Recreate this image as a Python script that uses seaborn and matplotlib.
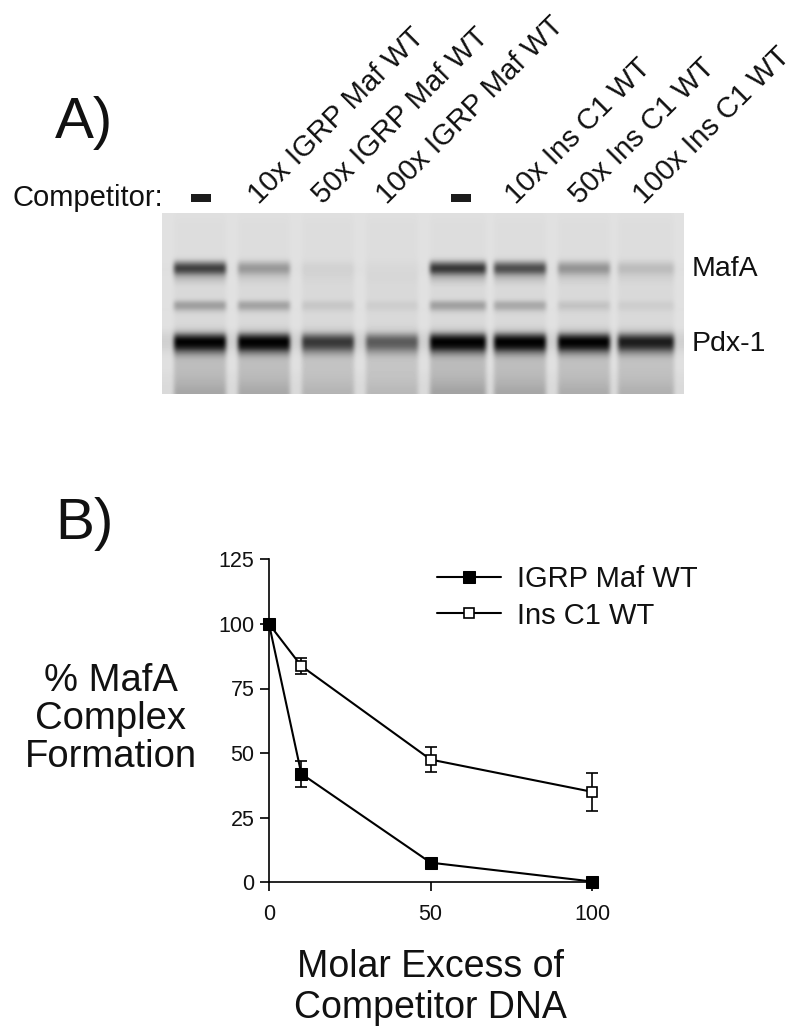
import numpy as np
import pandas as pd
import seaborn as sns
import matplotlib.pyplot as plt
from matplotlib.patches import Rectangle

# competition curves
excess = [0, 10, 50, 100]
igrp_mean = [100, 42, 7.6, 0.3]
igrp_err = [0, 5, 0.8, 1.0]
ins_mean = [100, 83.7, 47.5, 35]
ins_err = [0, 3.1, 5, 7.4]
y_ticks = [0, 25, 50, 75, 100, 125]
x_ticks = [0, 50, 100]

# gel lanes, left to right
lane_labels = ["10x IGRP Maf WT", "50x IGRP Maf WT", "100x IGRP Maf WT",
               "10x Ins C1 WT", "50x Ins C1 WT", "100x Ins C1 WT"]
lane_left = [175, 239, 303, 368, 431, 495, 557, 620]
lane_right = [227, 290, 355, 420, 485, 547, 610, 675]
mafa_band = [165, 70, 9, 2, 175, 150, 75, 32]
middle_band = [70, 65, 22, 14, 68, 58, 26, 14]
pdx_band = [210, 218, 150, 115, 220, 218, 212, 178]
smear = [42, 40, 28, 24, 46, 42, 36, 32]

# vertical shapes of the gel, one value per 4 px row from the top
lane_bg = [223, 222, 221, 221, 221, 221, 221, 221, 221, 221, 221, 220, 219, 218, 217, 215, 215, 216, 217, 217,
           217, 217, 217, 217, 217, 217, 217, 216, 214, 212, 209, 206, 204, 204, 205, 207, 208, 208,
           208, 208, 208, 208, 208, 208, 208]
gap_bg = [225, 225, 225, 225, 225, 225, 225, 225, 225, 225, 225, 225, 224, 223, 223, 224, 225, 225, 225, 225,
          225, 225, 225, 224, 224, 225, 225, 225, 224, 218, 212, 208, 208, 212, 218, 222, 224, 224,
          224, 222, 220, 220, 218, 218, 218]
mafa_shape = [0] * 11 + [0.06, 0.55, 1, 0.85, 0.35, 0.14, 0.05] + [0] * 27
middle_shape = [0] * 21 + [0.06, 0.85, 0.85, 0.2] + [0] * 20
pdx_shape = [0] * 28 + [0.02, 0.14, 0.6, 1, 1, 0.8, 0.35, 0.1] + [0] * 9
smear_shape = [0] * 34 + [0.5, 0.55, 0.5, 0.45, 0.45, 0.5, 0.55, 0.65, 0.75, 0.9, 1]

sns.set_theme(style="ticks")
plt.rcParams["font.family"] = ["Liberation Sans", "DejaVu Sans"]

W, H = 800, 1029
fig = plt.figure(figsize=(W / 100, H / 100), dpi=100, facecolor="white")


def put(x, y, s, **kw):
    fig.text(x / W, 1 - y / H, s, color="#111111", **kw)


# gel image
n_rows = len(lane_bg)
cols = np.arange(162, 690, 4)
gel = np.zeros((n_rows, len(cols)))
for j, x in enumerate(cols):
    gel[:, j] = gap_bg
    for k in range(len(lane_left)):
        if lane_left[k] <= x + 2 < lane_right[k]:
            gel[:, j] = (np.array(lane_bg)
                         - mafa_band[k] * np.array(mafa_shape)
                         - middle_band[k] * np.array(middle_shape)
                         - pdx_band[k] * np.array(pdx_shape)
                         - smear[k] * np.array(smear_shape))
ax_gel = fig.add_axes([162 / W, 1 - 394 / H, 522 / W, 181 / H])
ax_gel.imshow(np.clip(gel, 0, 255), cmap="gray", vmin=0, vmax=255, aspect="auto",
              interpolation="bicubic", extent=(162, 690, 394, 213))
ax_gel.set_xlim(162, 684)
ax_gel.set_ylim(394, 213)
ax_gel.axis("off")

put(55, 138, "A)", fontsize=42)
put(55, 539, "B)", fontsize=42)
put(12, 206, "Competitor:", fontsize=21)
for x0 in [191, 451]:
    fig.add_artist(Rectangle((x0 / W, 1 - 202 / H), 20 / W, 8 / H, color="#1c1c1c", lw=0,
                             transform=fig.transFigure))
for x0, s in zip([259, 323, 387, 516, 580, 644], lane_labels):
    put(x0, 205, s, fontsize=21, rotation=45, rotation_mode="anchor", ha="left", va="baseline")
put(692, 276, "MafA", fontsize=20.5)
put(692, 351, "Pdx-1", fontsize=20.5)

# panel B
ax = fig.add_axes([269 / W, 1 - 882.3 / H, 323.3 / W, 323 / H])
igrp = pd.DataFrame({"excess": excess, "pct": igrp_mean})
ins = pd.DataFrame({"excess": excess, "pct": ins_mean})
sns.lineplot(data=igrp, x="excess", y="pct", ax=ax, color="black", lw=1.5, marker="s", ms=8.5,
             markerfacecolor="black", markeredgecolor="black", label="IGRP Maf WT", zorder=4, clip_on=False)
sns.lineplot(data=ins, x="excess", y="pct", ax=ax, color="black", lw=1.5, marker="s", ms=7.5,
             markerfacecolor="white", markeredgecolor="black", markeredgewidth=1.2, label="Ins C1 WT",
             zorder=3, clip_on=False)
ax.errorbar(excess, igrp_mean, yerr=igrp_err, fmt="none", ecolor="black", elinewidth=1.2, capsize=4,
            capthick=1.2, zorder=2, clip_on=False)
ax.errorbar(excess, ins_mean, yerr=ins_err, fmt="none", ecolor="black", elinewidth=1.2, capsize=4,
            capthick=1.2, zorder=2, clip_on=False)
ax.set_xlim(0, 100)
ax.set_ylim(0, 125)
ax.set_xticks(x_ticks)
ax.set_yticks(y_ticks)
ax.tick_params(axis="y", length=6.5, width=1.2, pad=4, labelsize=15.5, color="black", labelcolor="#111111")
ax.tick_params(axis="x", length=6.5, width=1.2, pad=9, labelsize=15.5, color="black", labelcolor="#111111")
sns.despine(ax=ax)
for side in ["left", "bottom"]:
    ax.spines[side].set_linewidth(1.2)
    ax.spines[side].set_color("black")
ax.patch.set_alpha(0)

ax.set_ylabel("% MafA\nComplex\nFormation", rotation=0, fontsize=27.5, ha="center", va="center",
              linespacing=1.08, color="#111111")
ax.yaxis.set_label_coords(-0.489, 0.505)
ax.set_xlabel("Molar Excess of\nCompetitor DNA", fontsize=27, ha="center", va="center",
              linespacing=1.17, color="#111111")
ax.xaxis.set_label_coords(0.5, -0.325)

ax.legend(loc="upper left", bbox_to_anchor=(0.519, 0.983), frameon=False, fontsize=21, handlelength=2.2,
          handletextpad=0.55, labelspacing=0.3, borderaxespad=0, borderpad=0, labelcolor="#111111")

fig.savefig("out.png", dpi=100)
